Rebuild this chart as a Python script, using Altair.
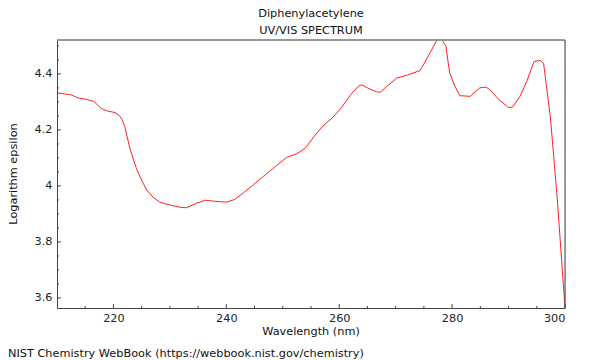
import altair as alt
import pandas as pd

# Spectrum data
wavelength = [210.0, 211.5, 212.5, 213.7, 215.0, 216.5, 217.9, 219.0, 220.3, 221.0,
              221.5, 222.0, 222.9, 224.1, 225.0, 225.9, 227.0, 228.2, 230.0, 232.0,
              233.0, 234.7, 236.2, 238.0, 240.1, 241.5, 243.0, 244.8, 247.2, 250.7,
              252.5, 254.1, 255.5, 256.9, 258.9, 260.4, 262.2, 263.5, 264.0, 265.0,
              266.6, 267.3, 268.4, 270.2, 272.0, 274.3, 275.0, 275.8, 277.3, 278.2,
              278.9, 279.3, 279.6, 280.5, 281.4, 283.2, 284.9, 286.0, 286.7, 288.2,
              290.0, 290.7, 292.0, 293.2, 294.5, 295.6, 296.2, 297.4, 298.6, 300.0]
log_eps = [4.332, 4.328, 4.325, 4.314, 4.310, 4.302, 4.276, 4.267, 4.262, 4.252,
           4.238, 4.212, 4.135, 4.060, 4.020, 3.985, 3.960, 3.942, 3.932, 3.923,
           3.922, 3.938, 3.949, 3.945, 3.942, 3.952, 3.975, 4.004, 4.045, 4.102,
           4.115, 4.137, 4.175, 4.210, 4.245, 4.280, 4.330, 4.358, 4.361, 4.350,
           4.336, 4.335, 4.355, 4.385, 4.395, 4.412, 4.435, 4.465, 4.520, 4.520,
           4.500, 4.440, 4.402, 4.355, 4.322, 4.320, 4.350, 4.353, 4.343, 4.310,
           4.280, 4.281, 4.319, 4.372, 4.444, 4.448, 4.438, 4.248, 3.962, 3.565]

x_major = [220, 240, 260, 280, 300]
x_minor = [215, 225, 230, 235, 245, 250, 255, 265, 270, 275, 285, 290, 295]
y_major = [3.6, 3.8, 4.0, 4.2, 4.4]
y_minor = [3.65, 3.7, 3.75, 3.85, 3.9, 3.95, 4.05, 4.1, 4.15, 4.25, 4.3, 4.35, 4.45, 4.5]

title_lines = ["Diphenylacetylene", "UV/VIS SPECTRUM"]
x_title = "Wavelength (nm)"
y_title = "Logarithm epsilon"
footer = "NIST Chemistry WebBook (https://webbook.nist.gov/chemistry)"

W, H = 508, 268
FONT = "DejaVu Sans"
FS = 11.3

df = pd.DataFrame({"w": wavelength, "e": log_eps})
xs = alt.Scale(domain=[210, 300], nice=False, zero=False)
ys = alt.Scale(domain=[3.564, 4.521], nice=False, zero=False)

line = alt.Chart(df).mark_line(color="#ff2020", strokeWidth=1, clip=True).encode(
    x=alt.X("w:Q", scale=xs,
            axis=alt.Axis(values=x_major, title=None, ticks=False, grid=False,
                          labelFont=FONT, labelFontSize=FS, labelColor="#222",
                          labelPadding=4, domainColor="#444", format="d")),
    y=alt.Y("e:Q", scale=ys,
            axis=alt.Axis(values=y_major, title=None, ticks=False, grid=False,
                          labelFont=FONT, labelFontSize=FS, labelColor="#222",
                          labelPadding=5, domainColor="#444", format="~g")),
)

def xticks(vals, length):
    return alt.Chart(pd.DataFrame({"w": vals})).mark_rule(color="#444", strokeWidth=1).encode(
        x=alt.X("w:Q", scale=xs), y=alt.value(H), y2=alt.value(H - length))

def yticks(vals, length):
    return alt.Chart(pd.DataFrame({"e": vals})).mark_rule(color="#444", strokeWidth=1).encode(
        y=alt.Y("e:Q", scale=ys), x=alt.value(0), x2=alt.value(length))

top_border = alt.Chart(pd.DataFrame({"a": [0]})).mark_rule(color="#999", strokeWidth=2).encode(
    x=alt.value(0), x2=alt.value(W), y=alt.value(0))
right_border = alt.Chart(pd.DataFrame({"a": [0]})).mark_rule(color="#444", strokeWidth=1).encode(
    x=alt.value(W), y=alt.value(0), y2=alt.value(H))

def label(txt, x, y, align="center", angle=0):
    return alt.Chart(pd.DataFrame({"t": [txt]})).mark_text(
        font=FONT, fontSize=FS, color="#111", align=align, baseline="alphabetic",
        angle=angle).encode(text="t:N", x=alt.value(x), y=alt.value(y))

texts = [
    label(title_lines[0], W / 2, -23),
    label(title_lines[1], W / 2, -6),
    label(x_title, W / 2, 295),
    label(y_title, -40, H / 2, angle=270),
    label(footer, -49, 317, align="left"),
]

chart = alt.layer(
    line,
    xticks(x_major, 4), xticks(x_minor, 2),
    yticks(y_major, 4), yticks(y_minor, 2),
    top_border, right_border, *texts,
).properties(
    width=W, height=H,
    autosize=alt.AutoSizeParams(type="none"),
    padding={"left": 49, "top": 32, "right": 27, "bottom": 52},
).configure_view(stroke=None).configure(background="white")

chart.save("out.html", embed_options={"renderer": "svg", "actions": False})
